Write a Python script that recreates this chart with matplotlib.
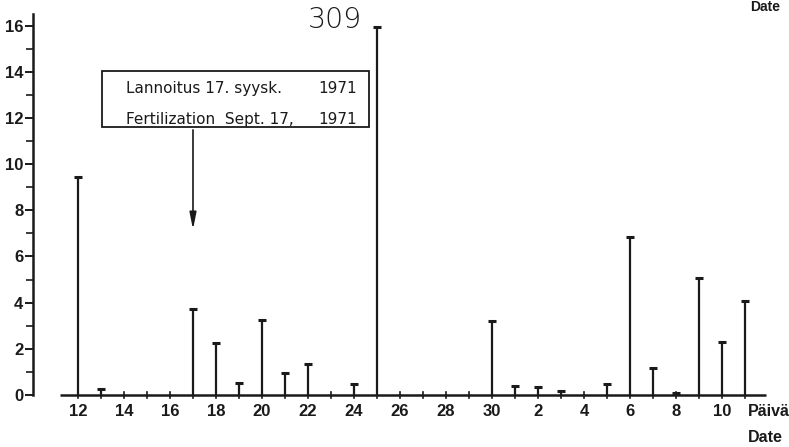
import matplotlib
matplotlib.use("Agg")
import matplotlib.pyplot as plt
from matplotlib.patches import Rectangle

# Days from Sept 12 to Oct 11, 1971
day_labels = [12, 13, 14, 15, 16, 17, 18, 19, 20, 21, 22, 23, 24, 25, 26, 27, 28, 29, 30,
              1, 2, 3, 4, 5, 6, 7, 8, 9, 10, 11]
values = [9.45, 0.25, 0.0, 0.0, 0.0, 3.72, 2.25, 0.52, 3.25, 0.95, 1.33, 0.0, 0.46, 309.0,
          0.0, 0.0, 0.0, 0.0, 3.19, 0.38, 0.36, 0.16, 0.0, 0.49, 6.83, 1.17, 0.07, 5.06, 2.31, 4.05]
yticks = [0, 2, 4, 6, 8, 10, 12, 14, 16]
fert_day = 17
offscale_label = "309"
box_line1 = "Lannoitus 17. syysk."
box_line2 = "Fertilization  Sept. 17,"
box_year = "1971"

plt.rcParams['font.family'] = ['Liberation Sans', 'DejaVu Sans']
ink = '#1a1a1a'

fig = plt.figure(figsize=(7.89, 4.47), dpi=100)
ax = fig.add_axes([33/789, 1-395/447, (770-33)/789, (395-14)/447])

x = list(range(len(day_labels)))
ymax_show = 15.95
shown = [min(v, ymax_show) for v in values]

nz_x = [i for i, v in zip(x, values) if v > 0]
nz_y = [s for s, v in zip(shown, values) if v > 0]
ax.vlines(nz_x, 0, nz_y, color=ink, lw=1.6)
ax.plot(nz_x, nz_y, linestyle='none', marker='_', ms=5.5, mew=2.2, color=ink)

# baseline (x axis line)
ax.hlines(0, -0.8, 29.9, color=ink, lw=1.8, clip_on=False)
# day ticks crossing the baseline
for i in x:
    ax.plot([i, i], [-0.13, 0.13], color=ink, lw=1.2, clip_on=False)

ax.set_xlim(-1.957, 30.09)
ax.set_ylim(0, 16.5)

for s in ['top', 'right', 'bottom']:
    ax.spines[s].set_visible(False)
ax.spines['left'].set_linewidth(1.8)
ax.spines['left'].set_color(ink)

ax.set_yticks(yticks)
ax.set_yticks(range(0, 17), minor=True)
ax.tick_params(axis='y', which='major', direction='out', length=6, width=1.4, colors=ink,
               labelsize=12, pad=1)
ax.tick_params(axis='y', which='minor', direction='out', length=5, width=1.2, colors=ink)
for lab in ax.get_yticklabels():
    lab.set_fontweight('bold')

ax.set_xticks([])
for i, d in zip(x, day_labels):
    if d % 2 == 0:
        ax.text(i, -0.72, str(d), ha='center', va='center', fontsize=12,
                fontweight='bold', color=ink)

ax.text(29.13, -0.72, "Päivä", ha='left', va='center', fontsize=11.5, fontweight='bold',
        color=ink, clip_on=False)
ax.text(29.13, -1.83, "Date", ha='left', va='center', fontsize=11.5, fontweight='bold',
        color=ink, clip_on=False)
fig.text(750/789, 1.0, "Date", ha='left', va='top', fontsize=10, fontweight='bold',
         color=ink)

# annotation box
fx = day_labels.index(fert_day)
box_font = dict(fontsize=11, fontfamily=['DejaVu Sans'], color=ink)
ax.add_patch(Rectangle((1.04, 11.6), 11.6, 2.43, fill=False, ec=ink, lw=1.3))
ax.text(2.09, 13.28, box_line1, ha='left', va='center', **box_font)
ax.text(12.13, 13.28, box_year, ha='right', va='center', **box_font)
ax.text(2.09, 11.95, box_line2, ha='left', va='center', **box_font)
ax.text(12.13, 11.95, box_year, ha='right', va='center', **box_font)
ax.annotate('', xy=(fx, 7.05), xytext=(fx, 11.6),
            arrowprops=dict(arrowstyle='-|>,head_width=0.2,head_length=1.0', color=ink, lw=1.2))

# off-scale value label
big = day_labels.index(25)
ax.text(big - 1.83, 16.25, offscale_label, ha='center', va='center', fontsize=20.5,
        fontfamily=['DejaVu Sans'], fontweight='light', color=ink, clip_on=False)

fig.savefig('out.png', dpi=100, facecolor='white')
